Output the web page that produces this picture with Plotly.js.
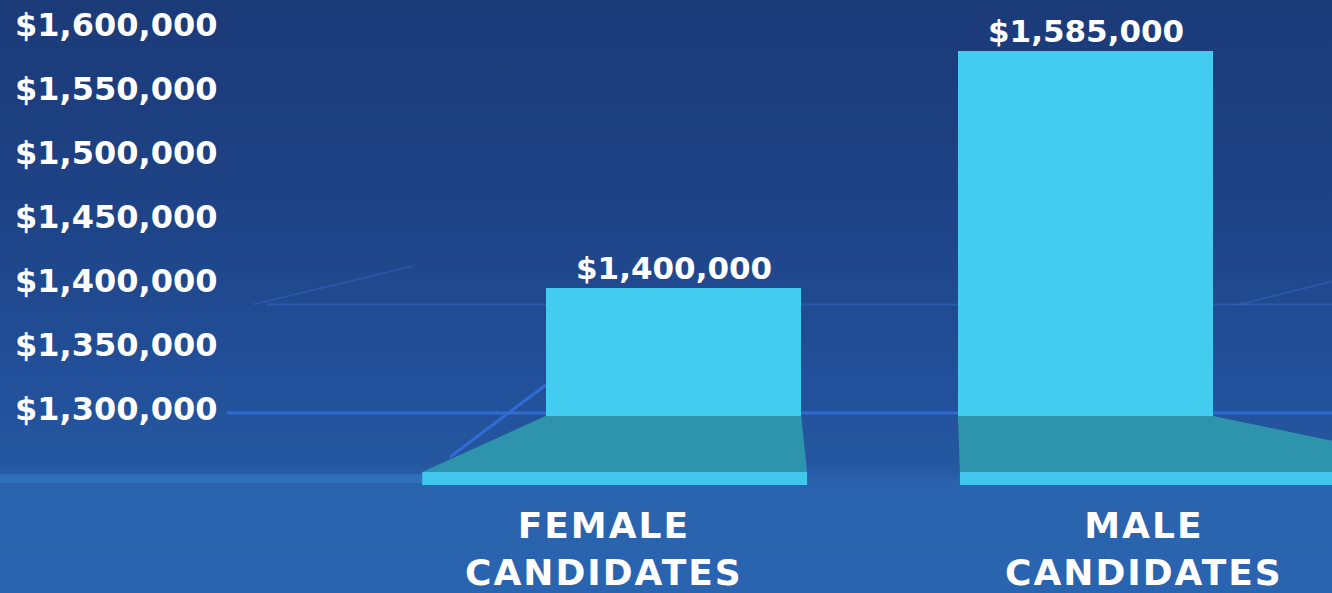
<!DOCTYPE html>
<html>
<head>
<meta charset="utf-8">
<script src="https://cdn.plot.ly/plotly-3.0.1.min.js"></script>
<style>
  html, body { margin: 0; padding: 0; }
  body { width: 1332px; height: 593px; overflow: hidden;
    background: linear-gradient(180deg, #1b3a78 0%, #1e4386 35%, #22509a 65%, #24579f 78%, #2a63ad 82%, #2964b0 100%); }
  #chart { width: 1332px; height: 593px; }
</style>
</head>
<body>
<div id="chart"></div>
<script>
// ---- data ----
const categories = ["FEMALE<br>CANDIDATES", "MALE<br>CANDIDATES"];
const values = [1400000, 1585000];
const valueLabels = ["$1,400,000", "$1,585,000"];
const tickValues = [1300000, 1350000, 1400000, 1450000, 1500000, 1550000, 1600000];
const tickLabels = ["$1,300,000", "$1,350,000", "$1,400,000", "$1,450,000", "$1,500,000", "$1,550,000", "$1,600,000"];
const axisBase = 1300000;

// ---- style ----
const barColor = "#42cdf0";
const baseColor = "#2e94ae";
const stripColor = "#42c6ee";
const barWidth = 0.62;
const font = "'DejaVu Sans', 'Open Sans', sans-serif";
const yRange = [1246100, 1624750];
const xRange = [-1.6347, 1.598];
const floorY = 1256300;   // bottom of the perspective floor
const stripY = 1246100;   // bottom of the light strip
const labelShift = [-70, 58]; // perspective offset of category labels (px)

const half = barWidth / 2;
const floorSpread = [[-0.30, 0.014], [0.005, 0.65]];
const shapes = [];

// decorative background lines
shapes.push({type: "line", xref: "paper", yref: "y", x0: 0.17, x1: 1, y0: axisBase + 2300, y1: axisBase + 2300,
  line: {color: "rgba(50,110,215,0.9)", width: 3}, layer: "below"});
shapes.push({type: "line", xref: "paper", yref: "y", x0: 0.2, x1: 1, y0: 1387000, y1: 1387000,
  line: {color: "rgba(50,105,200,0.55)", width: 2}, layer: "below"});
shapes.push({type: "line", xref: "paper", yref: "y", x0: 0.19, x1: 0.31, y0: 1387000, y1: 1417000,
  line: {color: "rgba(60,115,205,0.35)", width: 2}, layer: "below"});
shapes.push({type: "line", xref: "paper", yref: "y", x0: 0.93, x1: 1, y0: 1387000, y1: 1405000,
  line: {color: "rgba(60,115,205,0.35)", width: 2}, layer: "below"});
shapes.push({type: "rect", xref: "paper", yref: "y", x0: 0, x1: 0.33, y0: stripY + 1500, y1: stripY + 8500,
  fillcolor: "rgba(60,130,210,0.45)", line: {width: 0}, layer: "below"});
shapes.push({type: "line", xref: "x", yref: "y", x0: -0.5425, x1: -0.31, y0: 1268000, y1: 1324200,
  line: {color: "rgba(50,110,215,0.95)", width: 3}, layer: "below"});

categories.forEach((c, i) => {
  const l = i - half, r = i + half;
  const bl = i - half + floorSpread[i][0], br = i + half + floorSpread[i][1];
  shapes.push({type: "path", xref: "x", yref: "y",
    path: `M ${l} ${axisBase} L ${r} ${axisBase} L ${br} ${floorY} L ${bl} ${floorY} Z`,
    fillcolor: baseColor, line: {width: 0}, layer: "above"});
  shapes.push({type: "rect", xref: "x", yref: "y", x0: bl, x1: br + (i === 1 ? 0.2 : 0), y0: stripY, y1: floorY,
    fillcolor: stripColor, line: {width: 0}, layer: "above"});
});

const trace = {
  type: "bar",
  x: [0, 1],
  y: values.map(v => v - axisBase),
  base: axisBase,
  width: barWidth,
  marker: {color: barColor, line: {width: 0}},
  hoverinfo: "skip"
};

const annotations = values.map((v, i) => ({
  x: i, y: v, xref: "x", yref: "y", text: valueLabels[i], showarrow: false,
  yanchor: "middle", yshift: 20,
  font: {family: font, size: 31, color: "#ffffff", weight: 700}
}));
categories.forEach((c, i) => {
  annotations.push({
    x: i, y: 0, xref: "x", yref: "paper", text: c, showarrow: false,
    xanchor: "center", yanchor: "top", xshift: labelShift[i], yshift: -18,
    font: {family: font, size: 36, color: "#ffffff", weight: 700}
  });
});

const layout = {
  width: 1332, height: 593,
  margin: {l: 0, r: 0, t: 0, b: 108, pad: 0},
  paper_bgcolor: "rgba(0,0,0,0)",
  plot_bgcolor: "rgba(0,0,0,0)",
  showlegend: false,
  bargap: 0,
  xaxis: {
    range: xRange, showticklabels: false,
    showgrid: false, zeroline: false, showline: false, ticks: "", fixedrange: true
  },
  yaxis: {
    range: yRange, tickmode: "array", tickvals: tickValues, ticktext: tickLabels,
    showgrid: false, zeroline: false, showline: false, ticks: "",
    ticklabelposition: "inside", ticklabelstandoff: 12, ticklabelshift: -7,
    tickfont: {family: font, size: 32, color: "#ffffff", weight: 700}, fixedrange: true
  },
  annotations: annotations,
  shapes: shapes
};

Plotly.newPlot("chart", [trace], layout, {displayModeBar: false, staticPlot: true}).then(() => {
  document.querySelectorAll("g.annotation text").forEach(t => {
    if (t.textContent.indexOf("CANDIDATES") >= 0) t.style.letterSpacing = "2px";
  });
});
</script>
</body>
</html>
